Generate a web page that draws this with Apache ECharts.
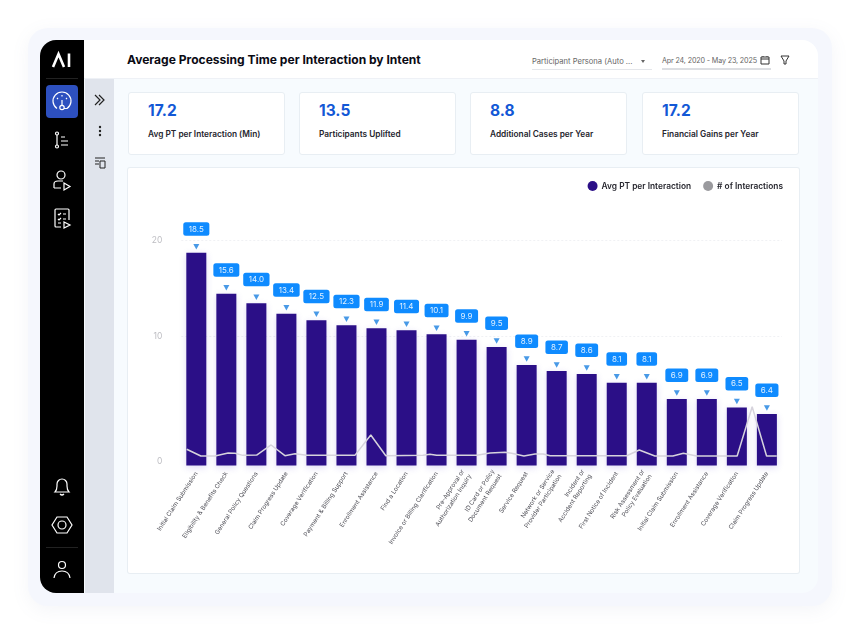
<!DOCTYPE html>
<html>
<head>
<meta charset="utf-8">
<style>
  html, body { margin: 0; width: 860px; height: 633px; background: #fff; overflow: hidden; font-family: Inter, "Noto Sans", sans-serif; }
  .abs { position: absolute; }
  #frame { left: 28px; top: 28px; width: 804px; height: 578px; background: #f5f7fd; border-radius: 20px; box-shadow: 0 4px 18px rgba(120,130,170,.08); }
  #app { left: 40px; top: 40px; width: 778px; height: 553px; background: #f7fbfe; border-radius: 16px; overflow: hidden; }
  #nav { left: 0; top: 0; width: 44px; height: 553px; background: #000; }
  #subnav { left: 45px; top: 39px; width: 29px; height: 514px; background: #e0e4ec; }
  #head { left: 44px; top: 0; width: 734px; height: 38px; background: #fff; border-bottom: 1px solid #eef1f6; }
  #title { left: 127px; top: 52px; font-size: 12.05px; font-weight: 700; color: #0a0a14; white-space: nowrap; }
  .ctl { font-size: 7.6px; color: #666; white-space: nowrap; }
  .kpi { top: 92px; width: 155px; height: 61px; background: #fff; border: 1px solid #e8eef3; border-radius: 3px; }
  .kpi b { position: absolute; left: 19px; top: 8px; font-size: 15.5px; font-weight: 700; color: #1258d6; }
  .kpi span { position: absolute; left: 19px; top: 36px; font-size: 8.3px; font-weight: 600; color: #26262e; white-space: nowrap; }
  #card { left: 128px; top: 168px; width: 671px; height: 405px; background: #fff; box-shadow: 0 0 0 1px #e8eef3; border-radius: 2px; }
  #chart { width: 671px; height: 405px; }
  svg { position: absolute; fill: none; stroke: #fff; stroke-width: 1.2; }
</style>
</head>
<body>
<div class="abs" id="frame"></div>
<div class="abs" id="app">
  <div class="abs" id="nav"></div>
  <div class="abs" id="subnav"></div>
  <div class="abs" id="head"></div>
</div>

<!-- sidebar -->
<svg style="left:45px;top:46px" width="32" height="28" viewBox="0 0 32 28"><path d="M8 21 L13.5 8 L19 21" stroke-width="2.6"/><path d="M24 7.5 V21" stroke-width="2.6"/></svg>
<div class="abs" style="left:46px;top:85px;width:32px;height:33px;background:#2d50bf;border-radius:4px"></div>
<svg style="left:50px;top:89px" width="24" height="24" viewBox="0 0 24 24"><path d="M7 19.5 A9 9 0 1 1 17 19.5 H14"/><circle cx="12" cy="18.5" r="2.2"/><path d="M12 16.3 V11 M12 6 V7.5 M7 9 L8 10 M17 9 L16 10"/></svg>
<svg style="left:50px;top:128px" width="24" height="24" viewBox="0 0 24 24"><circle cx="7" cy="5.5" r="1.5"/><circle cx="7" cy="18.5" r="1.5"/><path d="M7 7 V17 M11 9 H15 M11 13 H18 M11 17 H18"/></svg>
<svg style="left:50px;top:168px" width="24" height="24" viewBox="0 0 24 24"><circle cx="11" cy="7" r="4"/><path d="M4 20 V16 Q4 13 8 13 H13 M4 20 H11"/><path d="M14 15 L20 18.5 L14 22 Z"/></svg>
<svg style="left:50px;top:206px" width="24" height="24" viewBox="0 0 24 24"><path d="M11 21 H6 Q5 21 5 20 V4 Q5 3 6 3 H18 Q19 3 19 4 V14"/><path d="M8 8 L9 9 L11 7 M13 8 H16 M8 13 L9 14 L11 12 M13 13 H16 M8 17 H11"/><path d="M14 16 L20 19 L14 22 Z"/></svg>
<svg style="left:50px;top:474px" width="24" height="24" viewBox="0 0 24 24"><path d="M5 18 Q7 16 7 12 V10 A5 5 0 0 1 17 10 V12 Q17 16 19 18 Z"/><path d="M10 20 Q12 22 14 20"/></svg>
<svg style="left:50px;top:513px" width="24" height="24" viewBox="0 0 24 24"><path d="M7 4 H17 L22 12 L17 20 H7 L2 12 Z"/><circle cx="12" cy="12" r="4"/></svg>
<svg style="left:50px;top:558px" width="24" height="24" viewBox="0 0 24 24"><circle cx="12" cy="7" r="3.5"/><path d="M4 20 Q5 13 12 13 Q19 13 20 20"/></svg>
<div class="abs" style="left:46px;top:78px;width:32px;height:1px;background:#222"></div>
<div class="abs" style="left:46px;top:547px;width:32px;height:1px;background:#222"></div>

<!-- second rail -->
<svg style="left:92px;top:92px;stroke:#222" width="16" height="16" viewBox="0 0 16 16"><path d="M3 3 L8 8 L3 13 M7 3 L12 8 L7 13"/></svg>
<svg style="left:92px;top:123px;stroke:none;fill:#222" width="16" height="16" viewBox="0 0 16 16"><circle cx="8" cy="4" r="1.2"/><circle cx="8" cy="8" r="1.2"/><circle cx="8" cy="12" r="1.2"/></svg>
<svg style="left:92px;top:155px;stroke:#222;stroke-width:1" width="16" height="16" viewBox="0 0 16 16"><path d="M3 3 H13 M3 6 H7 M3 9 H7 M8 6 H13 V13 H8 Z"/></svg>

<!-- header -->
<div class="abs" id="title">Average Processing Time per Interaction by Intent</div>
<div class="abs ctl" style="left:532px;top:57px">Participant Persona (Auto ...</div>
<div class="abs" style="left:641px;top:60px;width:0;height:0;border:2px solid transparent;border-top:3px solid #666"></div>
<div class="abs" style="left:532px;top:69px;width:120px;height:1px;background:#e4e6ea"></div>
<div class="abs ctl" style="left:662px;top:56px;font-size:7.2px;letter-spacing:-.15px">Apr 24, 2020 - May 23, 2025</div>
<div class="abs" style="left:662px;top:68px;width:109px;height:2px;background:#dcdee2"></div>
<svg style="left:759px;top:54px;stroke:#333;stroke-width:1" width="12" height="12" viewBox="0 0 12 12"><path d="M2 3 H10 V10 H2 Z M2 5 H10 M4 2 V3 M8 2 V3"/></svg>
<svg style="left:779px;top:54px;stroke:#333;stroke-width:1" width="12" height="12" viewBox="0 0 12 12"><path d="M2 2 H10 L7 7 V10 L5 10 V7 Z"/></svg>

<!-- kpi cards -->
<div class="abs kpi" style="left:128px"><b>17.2</b><span>Avg PT per Interaction (Min)</span></div>
<div class="abs kpi" style="left:299px"><b>13.5</b><span>Participants Uplifted</span></div>
<div class="abs kpi" style="left:470px"><b>8.8</b><span>Additional Cases per Year</span></div>
<div class="abs kpi" style="left:642px"><b>17.2</b><span>Financial Gains per Year</span></div>

<div class="abs" id="card"><div id="chart"></div></div>

<script src="https://cdn.jsdelivr.net/npm/echarts@6/dist/echarts.min.js"></script>
<script>
  var categories = [
    "Initial Claim Submission", "Eligibility & Benefits Check", "General Policy Questions",
    "Claim Progress Update", "Coverage Verification", "Payment & Billing Support",
    "Enrollment Assistance", "Find a Location", "Invoice or Billing Clarification",
    "Pre-Approval or\nAuthorization Inquiry", "ID Card or Policy\nDocument Request", "Service Request",
    "Network or Service\nProvider Participation", "Incident or\nAccident Reporting", "First Notice of Incident",
    "Risk Assessment or\nPolicy Evaluation", "Initial Claim Submission", "Enrollment Assistance",
    "Coverage Verification", "Claim Progress Update"
  ];
  // numbers printed in the blue tags
  var avgPtLabels = [18.5, 15.6, 14.0, 13.4, 12.5, 12.3, 11.9, 11.4, 10.1, 9.9, 9.5, 8.9, 8.7, 8.6, 8.1, 8.1, 6.9, 6.9, 6.5, 6.4];
  // bar heights as drawn (the picture's bars do not follow the printed numbers)
  var avgPtBars = [18.87, 15.24, 14.39, 13.46, 12.88, 12.43, 12.17, 11.99, 11.64, 11.16, 10.51, 8.91, 8.38, 8.12, 7.34, 7.34, 5.90, 5.90, 5.14, 4.56];
  // # of interactions line: position along the category band, and height
  var interactionPos = [0.18, 0.65, 1.12, 1.56, 1.79, 2.05, 2.51, 2.99, 3.45, 3.79, 4.18, 5.78, 6.31, 6.81, 8.05, 8.28, 8.50, 9.84, 10.28, 10.78, 11.0, 11.41, 11.78, 12.05, 12.28, 13.61, 14.83, 15.25, 15.77, 16.37, 16.72, 17.16, 18.51, 19.01, 19.49, 19.83];
  var interactionVal = [1.44, 0.84, 0.84, 1.11, 1.08, 0.90, 0.93, 1.82, 0.87, 1.05, 0.90, 0.90, 2.71, 0.87, 0.90, 1.0, 0.90, 0.90, 1.11, 1.17, 1.08, 0.84, 1.02, 1.02, 0.87, 0.87, 0.87, 1.37, 0.84, 0.84, 1.08, 0.84, 0.84, 5.21, 0.84, 0.84];
  var tickValues = [0.35, 11.49, 20];
  var tickLabels = ["0", "10", "20"];
  var gridValues = [11.49, 20];

  var chart = echarts.init(document.getElementById("chart"));
  chart.setOption({
    animation: false,
    textStyle: { fontFamily: "Inter" },
    legend: {
      data: ["Avg PT per Interaction", "# of Interactions"],
      right: 11,
      top: 8,
      icon: "circle",
      itemWidth: 10,
      itemHeight: 10,
      itemGap: 12,
      textStyle: { color: "#26262e", fontSize: 8.35, fontWeight: 600, padding: [0, 0, 0, -1] }
    },
    grid: { left: 53.3, right: 17.1, top: 72, bottom: 107.5 },
    xAxis: [
      {
        type: "category",
        data: categories,
        axisLine: { show: false },
        axisTick: { show: false },
        axisLabel: { interval: 0, rotate: 57, margin: 7, fontSize: 6.2, lineHeight: 8.5, color: "#4a4a52", align: "right", verticalAlign: "middle" }
      },
      { type: "value", min: 0, max: 20, show: false }
    ],
    yAxis: {
      type: "value",
      min: 0,
      max: 20,
      axisLine: { show: false },
      axisTick: { show: false, customValues: gridValues },
      axisLabel: {
        customValues: tickValues,
        color: "#bdbdc2",
        fontSize: 8.5,
        margin: 19,
        formatter: function (v) { return tickLabels[tickValues.indexOf(v)]; }
      },
      splitLine: { show: true, lineStyle: { color: "#f0f1f4", type: [2, 2] } }
    },
    series: [
      {
        name: "Avg PT per Interaction",
        type: "bar",
        data: avgPtBars,
        barWidth: 20,
        itemStyle: { color: "#2b0f87", shadowColor: "rgba(70,50,200,.18)", shadowBlur: 7, shadowOffsetY: 2 },
        label: {
          show: true,
          position: "top",
          distance: 17,
          formatter: function (p) { return avgPtLabels[p.dataIndex].toFixed(1); },
          color: "rgba(255,255,255,.88)",
          fontSize: 8,
          backgroundColor: "#0f8bff",
          borderRadius: 2.5,
          padding: [3, 5.5, 2.5, 5.5]
        }
      },
      {
        name: "arrows",
        type: "scatter",
        data: avgPtBars,
        symbol: "triangle",
        symbolRotate: 180,
        symbolSize: [6, 5.5],
        symbolOffset: [0, -6],
        itemStyle: { color: "#1a80e0" },
        silent: true
      },
      {
        name: "# of Interactions",
        type: "line",
        xAxisIndex: 1,
        data: interactionPos.map(function (x, i) { return [x, interactionVal[i]]; }),
        symbol: "none",
        z: 5,
        itemStyle: { color: "#9a9a9e" },
        lineStyle: { color: "#d6d3dc", width: 1.5 }
      }
    ]
  });
</script>
</body>
</html>
